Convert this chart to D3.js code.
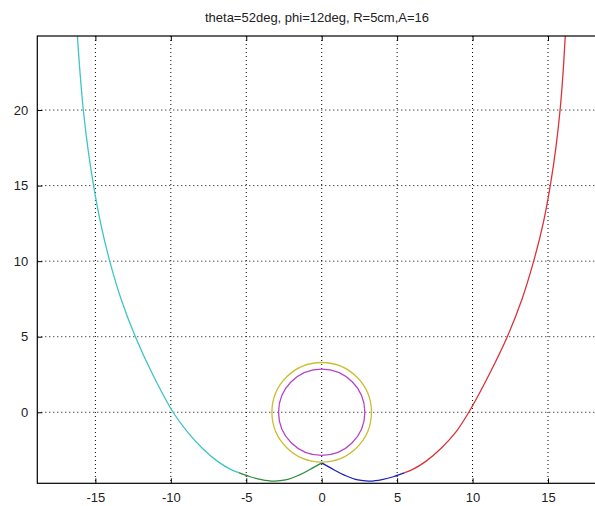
<!DOCTYPE html>
<html>
<head>
<meta charset="utf-8">
<script src="https://cdn.jsdelivr.net/npm/d3@7"></script>
<style>
body { margin: 0; background: #fff; }
text { font-family: "Liberation Sans", Arial, sans-serif; }
</style>
</head>
<body>
<div id="chart"></div>
<script>
var title = "theta=52deg, phi=12deg, R=5cm,A=16";
var xTicks = [-15, -10, -5, 0, 5, 10, 15];
var yTicks = [0, 5, 10, 15, 20];

// curve pieces, [x, y]
var cyanPts = [[-16.3, 26.5], [-16.2, 25], [-16.02, 22.5], [-15.8, 20], [-15.5, 17.5], [-15.12, 15], [-14.65, 12.5],
	[-14.05, 10], [-13.3, 7.5], [-12.35, 5], [-11.2, 2.5], [-9.85, 0], [-8.9, -1.3], [-7.9, -2.4], [-6.9, -3.25],
	[-6.0, -3.8], [-5.5, -4.0]];
var greenPts = [[-5.5, -4.0], [-4.8, -4.25], [-4.0, -4.45], [-3.2, -4.55], [-2.4, -4.48], [-1.6, -4.2],
	[-0.8, -3.8], [0, -3.35]];
var bluePts = [[0, -3.35], [0.8, -3.8], [1.6, -4.2], [2.4, -4.48], [3.2, -4.55], [4.0, -4.45], [4.8, -4.25],
	[5.5, -4.0]];
var redPts = [[5.5, -4.0], [6.0, -3.8], [6.9, -3.25], [7.9, -2.4], [8.9, -1.3], [9.75, 0], [11.1, 2.5], [12.3, 5],
	[13.28, 7.5], [14.05, 10], [14.68, 12.5], [15.15, 15], [15.52, 17.5], [15.8, 20], [16.0, 22.5], [16.15, 25],
	[16.25, 26.5]];

var circles = [{cx: 0, cy: 0, r: 3.3, color: "#c9bf34"}, {cx: 0, cy: 0, r: 2.86, color: "#b542c6"}];
var curves = [{pts: cyanPts, color: "#3fc4c6"}, {pts: greenPts, color: "#2f8a3c"},
	{pts: bluePts, color: "#1c1cc0"}, {pts: redPts, color: "#d9333a"}];

var W = 595, H = 506;
var padL = 37.3, padR = 606.1, padT = 36, padB = 483.3;

var svg = d3.select("#chart").append("svg")
	.attr("width", W)
	.attr("height", H);

var x = d3.scaleLinear().domain([-18.85, 18.85]).range([padL, padR]);
var y = d3.scaleLinear().domain([-4.7, 24.9]).range([padB, padT]);

svg.append("clipPath").attr("id", "clip")
	.append("rect")
	.attr("x", padL).attr("y", padT)
	.attr("width", padR - padL).attr("height", padB - padT);

// grid
var grid = svg.append("g").attr("clip-path", "url(#clip)");
xTicks.forEach(function(t){
	grid.append("line")
		.attr("x1", x(t)).attr("x2", x(t))
		.attr("y1", padT).attr("y2", padB)
		.attr("stroke", "#000").attr("stroke-width", 1)
		.attr("stroke-dasharray", "1,3");
});
yTicks.forEach(function(t){
	grid.append("line")
		.attr("x1", padL).attr("x2", padR)
		.attr("y1", y(t)).attr("y2", y(t))
		.attr("stroke", "#000").attr("stroke-width", 1)
		.attr("stroke-dasharray", "1,3");
});

var plot = svg.append("g").attr("clip-path", "url(#clip)");

var line = d3.line()
	.x(function(d){ return x(d[0]); })
	.y(function(d){ return y(d[1]); })
	.curve(d3.curveCatmullRom.alpha(0.5));

curves.forEach(function(c){
	plot.append("path")
		.attr("d", line(c.pts))
		.attr("fill", "none")
		.attr("stroke", c.color)
		.attr("stroke-width", 1.3);
});

circles.forEach(function(c){
	plot.append("circle")
		.attr("cx", x(c.cx))
		.attr("cy", y(c.cy))
		.attr("r", x(c.r) - x(0))
		.attr("fill", "none")
		.attr("stroke", c.color)
		.attr("stroke-width", 1.3);
});

// axes box (right side falls outside the picture)
svg.append("rect")
	.attr("x", padL).attr("y", padT)
	.attr("width", padR - padL).attr("height", padB - padT)
	.attr("fill", "none")
	.attr("stroke", "#000").attr("stroke-width", 1.2);

var fmt = function(d){ return String(d); };  // plain hyphen minus like the original
var xAxisB = d3.axisBottom(x).tickValues(xTicks).tickSize(-5).tickPadding(9).tickFormat(fmt);
var xAxisT = d3.axisTop(x).tickValues(xTicks).tickSize(-5).tickFormat("");
var yAxisL = d3.axisLeft(y).tickValues(yTicks).tickSize(-5).tickPadding(9).tickFormat(fmt);

function styleAxis(g){
	g.select(".domain").remove();
	g.selectAll(".tick line").attr("stroke", "#000");
	g.selectAll(".tick text")
		.attr("fill", "#222")
		.style("font-size", "13px")
		.style("font-family", "'Liberation Sans', Arial, sans-serif");
}

svg.append("g").attr("transform", "translate(0," + padB + ")").call(xAxisB).call(styleAxis);
svg.append("g").attr("transform", "translate(0," + padT + ")").call(xAxisT).call(styleAxis);
svg.append("g").attr("transform", "translate(" + padL + ",0)").call(yAxisL).call(styleAxis);

svg.append("text")
	.attr("x", 317)
	.attr("y", 22)
	.attr("text-anchor", "middle")
	.attr("fill", "#222")
	.style("font-size", "13px")
	.text(title);
</script>
</body>
</html>
